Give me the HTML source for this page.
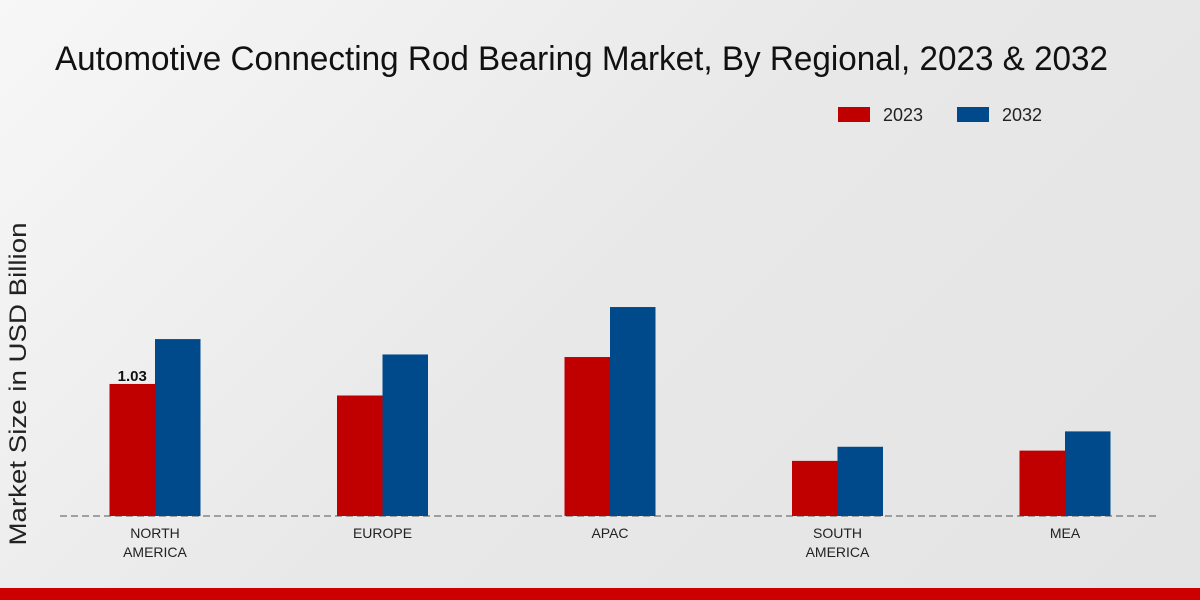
<!DOCTYPE html>
<html><head><meta charset="utf-8"><style>
html,body{margin:0;padding:0;width:1200px;height:600px;overflow:hidden}
body{background:linear-gradient(135deg,#f7f7f7 0%,#e8e8e8 50%,#e4e4e4 100%);font-family:"Liberation Sans",sans-serif}
</style></head><body>
<svg id="chart" width="1200" height="600" style="position:absolute;left:0;top:0">
<text x="55" y="70" font-size="34" fill="#111" textLength="1053" lengthAdjust="spacingAndGlyphs">Automotive Connecting Rod Bearing Market, By Regional, 2023 &amp; 2032</text>
<g>
<rect x="838" y="107" width="32" height="15" fill="#c00000"/>
<text x="883" y="121" font-size="18" fill="#222">2023</text>
<rect x="957" y="107" width="32" height="15" fill="#004a8c"/>
<text x="1002" y="121" font-size="18" fill="#222">2032</text>
</g>
<text transform="translate(26,384) rotate(-90)" text-anchor="middle" font-size="24" fill="#222" textLength="323" lengthAdjust="spacingAndGlyphs">Market Size in USD Billion</text>
<line x1="60" y1="516" x2="1160" y2="516" stroke="#555" stroke-dasharray="7,4"/>
<g id="bars"></g>
<rect x="0" y="588" width="1200" height="12" fill="#cc0000"/>
</svg>
<script>
const categories=[["NORTH","AMERICA"],["EUROPE"],["APAC"],["SOUTH","AMERICA"],["MEA"]];
const values2023=[1.03,0.94,1.24,0.43,0.51];
const values2032=[1.38,1.26,1.63,0.54,0.66];
const valueLabels=["1.03"];
const NS="http://www.w3.org/2000/svg";
const g=document.getElementById('bars');
const base=516, scale=128.2, x0=155, step=227.5, bw=45.5;
function xc(i){return x0+i*step;}
function y(v){return base-v*scale;}
function mk(t,a){const e=document.createElementNS(NS,t);for(const k in a)e.setAttribute(k,a[k]);g.appendChild(e);return e;}
categories.forEach((c,i)=>{
 const r=mk('rect',{x:xc(i)-bw,y:y(values2023[i]),width:bw,height:base-y(values2023[i]),fill:'#c00000'});
 
 
 const b=mk('rect',{x:xc(i),y:y(values2032[i]),width:bw,height:base-y(values2032[i]),fill:'#004a8c'});
 
 
 c.forEach((line,j)=>{
  const t=mk('text',{x:xc(i),y:538+j*19,'text-anchor':'middle','font-size':14,fill:'#222'});
  t.textContent=line;
  
  
 });
 if(valueLabels[i]){
  const t=mk('text',{x:xc(i)-bw/2,y:y(values2023[i])-3,'text-anchor':'middle','font-size':15,'font-weight':'bold',fill:'#111'});
  t.textContent=valueLabels[i];
  
  
 }
});
</script>
</body></html>
